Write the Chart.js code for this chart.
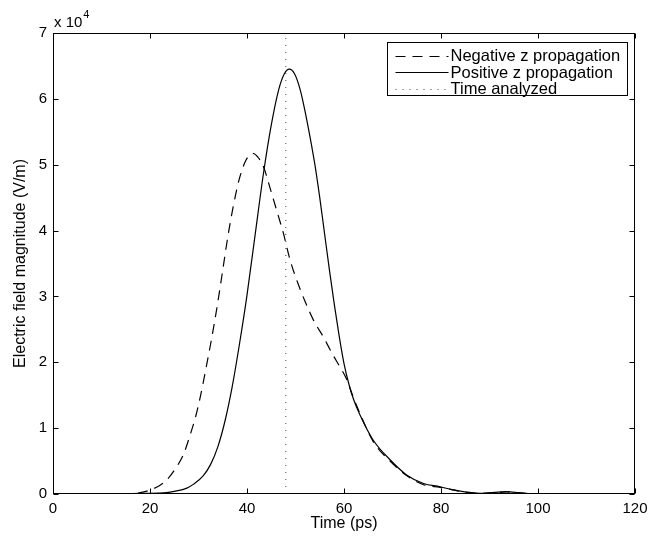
<!DOCTYPE html>
<html>
<head>
<meta charset="utf-8">
<script src="https://cdn.jsdelivr.net/npm/chart.js@4/dist/chart.umd.min.js"></script>
<style>
  html, body { margin: 0; padding: 0; background: #fff; }
  #wrap { width: 664px; height: 538px; }
</style>
</head>
<body>
<div id="wrap"><canvas id="fieldChart" width="664" height="538"></canvas></div>
<script>
// time axis (ps) and field magnitudes (units of 1e4 V/m)
const negTime = [0, 10, 15, 18, 20, 22, 23.4, 25, 26.9, 28.2, 29.5, 30.5, 31.6, 32.8, 34, 35.1, 36.1, 37.2, 38.4, 39.6, 40.6, 41.3, 42.2, 43.4, 44.7, 46.1, 47.5, 48.9, 50.9, 52, 53.7, 55.7, 57.8, 59, 60.5, 62, 63.3, 66, 69.5, 72.9, 76.4, 79.8, 82, 84.6, 88, 91, 93.5, 96, 98, 100, 120];
const negField = [0, 0, 0.005, 0.02, 0.06, 0.13, 0.21, 0.36, 0.6, 0.88, 1.2, 1.52, 1.93, 2.4, 2.92, 3.45, 3.93, 4.38, 4.78, 5.04, 5.15, 5.17, 5.12, 4.97, 4.66, 4.31, 3.96, 3.55, 3.12, 2.92, 2.64, 2.39, 2.1, 1.95, 1.75, 1.45, 1.22, 0.8, 0.5, 0.28, 0.14, 0.1, 0.07, 0.03, 0.01, 0.02, 0.03, 0.02, 0.005, 0, 0];

const posTime = [0, 10, 15, 18, 20, 23.4, 25, 27.6, 29, 31, 32.5, 34, 35.5, 37, 38.5, 40, 41.7, 43.4, 45, 46.5, 47.7, 48.7, 49.8, 51, 52, 53, 54, 55, 56, 57, 58, 59, 60, 61, 62, 63.3, 66, 69.5, 72.9, 76.4, 79.8, 82, 84.6, 88, 91, 93.5, 96, 98, 100, 120];
const posField = [0, 0, 0.003, 0.01, 0.01, 0.02, 0.04, 0.09, 0.15, 0.28, 0.45, 0.72, 1.12, 1.65, 2.3, 3.02, 3.95, 4.87, 5.6, 6.13, 6.38, 6.45, 6.38, 6.13, 5.8, 5.42, 5.0, 4.5, 3.95, 3.4, 2.88, 2.4, 1.98, 1.67, 1.43, 1.2, 0.82, 0.52, 0.29, 0.16, 0.11, 0.07, 0.035, 0.01, 0.025, 0.035, 0.02, 0.005, 0, 0];

const analyzedTime = 48;
const SCALE = 1e4;

const xTicks = [0, 20, 40, 60, 80, 100, 120];
const yTicks = [0, 1, 2, 3, 4, 5, 6, 7];

const FONT = '"Liberation Sans", Arial, Helvetica, sans-serif';

const toPoints = (ts, vs) => ts.map((t, i) => ({ x: t, y: vs[i] * SCALE }));

// box, inward ticks, exponent label and legend, matlab style
const matlabAxes = {
    id: 'matlabAxes',
    afterDraw(chart) {
        const { ctx, chartArea: a, scales } = chart;
        const L = Math.round(a.left) + 0.5, R = Math.round(a.right) - 0.5;
        const T = Math.round(a.top) + 0.5, B = Math.round(a.bottom) - 0.5;
        ctx.save();
        ctx.strokeStyle = '#000';
        ctx.lineWidth = 1;
        ctx.setLineDash([]);
        ctx.strokeRect(L, T, R - L, B - T);

        const tl = 5;
        ctx.beginPath();
        xTicks.forEach(v => {
            const px = Math.round(scales.x.getPixelForValue(v)) + 0.5;
            ctx.moveTo(px, B); ctx.lineTo(px, B - tl);
            ctx.moveTo(px, T); ctx.lineTo(px, T + tl);
        });
        yTicks.forEach(v => {
            const py = Math.round(scales.y.getPixelForValue(v * SCALE)) + 0.5;
            ctx.moveTo(L, py); ctx.lineTo(L + tl, py);
            ctx.moveTo(R, py); ctx.lineTo(R - tl, py);
        });
        ctx.stroke();

        // "x 10^4"
        ctx.fillStyle = '#000';
        ctx.textBaseline = 'alphabetic';
        ctx.textAlign = 'left';
        ctx.font = '15px ' + FONT;
        ctx.fillText('x 10', a.left + 1, a.top - 6);
        const w = ctx.measureText('x 10').width;
        ctx.font = '11px ' + FONT;
        ctx.fillText('4', a.left + 2 + w, a.top - 15);

        // legend
        const items = chart.data.datasets;
        ctx.font = '16.5px ' + FONT;
        const textW = Math.max(...items.map(d => ctx.measureText(d.label).width));
        const sample = 53, rowH = 16.7;
        const bx = Math.round(a.right - 7 - (8 + sample + 2 + textW + 8)) + 0.5;
        const by = Math.round(a.top + 9) + 0.5;
        const bw = Math.round(a.right - 7) - 0.5 - bx;
        const bh = Math.round(items.length * rowH + 3);
        ctx.fillStyle = '#fff';
        ctx.fillRect(bx, by, bw, bh);
        ctx.strokeRect(bx, by, bw, bh);
        items.forEach((d, i) => {
            const cy = by + 13 + i * rowH;
            ctx.beginPath();
            ctx.strokeStyle = d.borderColor;
            ctx.lineWidth = d.borderWidth;
            ctx.setLineDash(d.borderDash || []);
            ctx.moveTo(bx + 8, Math.round(cy) + 0.5);
            ctx.lineTo(bx + 8 + sample, Math.round(cy) + 0.5);
            ctx.stroke();
            ctx.setLineDash([]);
            ctx.fillStyle = '#000';
            ctx.textBaseline = 'middle';
            ctx.fillText(d.label, bx + 8 + sample + 2, cy + 1);
        });
        ctx.restore();
    },
};

new Chart(document.getElementById('fieldChart'), {
    type: 'line',
    data: {
        datasets: [
            {
                label: 'Negative z propagation',
                data: toPoints(negTime, negField),
                borderColor: '#000',
                borderWidth: 1.2,
                borderDash: [10, 7],
                cubicInterpolationMode: 'monotone',
                pointRadius: 0,
                fill: false,
            },
            {
                label: 'Positive z propagation',
                data: toPoints(posTime, posField),
                borderColor: '#000',
                borderWidth: 1.2,
                cubicInterpolationMode: 'monotone',
                pointRadius: 0,
                fill: false,
            },
            {
                label: 'Time analyzed',
                data: [{ x: analyzedTime, y: 0 }, { x: analyzedTime, y: 7 * SCALE }],
                borderColor: '#444',
                borderWidth: 1,
                borderDash: [1, 6],
                pointRadius: 0,
                fill: false,
            },
        ],
    },
    options: {
        responsive: false,
        animation: false,
        layout: { padding: { left: 0, right: 29, top: 33, bottom: 0 } },
        plugins: {
            legend: { display: false },
            tooltip: { enabled: false },
        },
        scales: {
            x: {
                type: 'linear',
                min: 0,
                max: 120,
                afterFit: s => { s.height = 44; },
                afterBuildTicks: s => { s.ticks = xTicks.map(v => ({ value: v })); },
                grid: { display: false, drawTicks: false },
                border: { display: false },
                ticks: { color: '#000', font: { family: FONT, size: 15 }, padding: 6, maxRotation: 0 },
                title: {
                    display: true,
                    text: 'Time (ps)',
                    color: '#000',
                    font: { family: FONT, size: 16, lineHeight: 1.2 },
                    padding: { top: 0, bottom: 5 },
                },
            },
            y: {
                min: 0,
                max: 7 * SCALE,
                afterFit: s => { s.width = 53; },
                afterBuildTicks: s => { s.ticks = yTicks.map(v => ({ value: v * SCALE })); },
                grid: { display: false, drawTicks: false },
                border: { display: false },
                ticks: {
                    color: '#000',
                    font: { family: FONT, size: 15 },
                    padding: 6,
                    callback: v => String(v / SCALE),
                },
                title: {
                    display: true,
                    text: 'Electric field magnitude (V/m)',
                    color: '#000',
                    font: { family: FONT, size: 16, lineHeight: 1.2 },
                    padding: { top: 11, bottom: 0 },
                },
            },
        },
    },
    plugins: [matlabAxes],
});
</script>
</body>
</html>
